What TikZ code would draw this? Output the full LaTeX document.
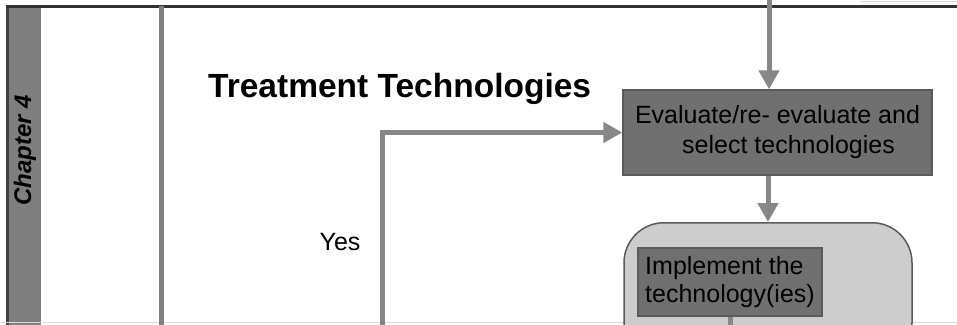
\documentclass[tikz,border=0pt]{standalone}
\usepackage{fontspec}
\setmainfont{Liberation Sans}
\usetikzlibrary{arrows.meta}
\definecolor{linegray}{HTML}{878787}
\definecolor{boxgray}{HTML}{707070}
\definecolor{boxedge}{HTML}{5A5A5A}
\definecolor{panel}{HTML}{CDCDCD}
\definecolor{band}{HTML}{7F7F7F}
\tikzset{
  flow/.style={draw=linegray, line width=5pt, -{Triangle[length=19pt,width=20pt]}},
  plain/.style={draw=linegray, line width=5pt},
  darkbox/.style={draw=boxedge, line width=1.5pt, fill=boxgray, inner sep=0pt},
  lbl/.style={font=\fontsize{25}{30}\selectfont, text=black},
}
\begin{document}
\begin{tikzpicture}[x=1pt,y=-1pt]
\useasboundingbox (0,0) rectangle (957,324);
\clip (0,0) rectangle (957,324);
\fill[white] (0,0) rectangle (957,324);
% chapter band
\fill[band] (9,6) rectangle (41,330);
\draw[draw=black!75, line width=3pt] (7.5,6) -- (7.5,330);
\draw[draw=black!80, line width=2.5pt] (6,6.5) -- (957,6.5);
\draw[draw=black!15, line width=1pt] (860,1) -- (957,1);
\draw[draw=black!15, line width=1pt] (0,322.5) -- (957,322.5);
\node[rotate=90, font=\fontsize{24}{28}\selectfont\bfseries\itshape, inner sep=0pt] (chap) at (25,150) {Chapter 4};
% lane divider
\draw[draw=black!50, line width=5pt] (161,6) -- (161,330);
% title
\node[anchor=base west, font=\fontsize{33.5}{40}\selectfont\bfseries, inner sep=0pt] (title) at (208,97) {Treatment Technologies};
% evaluate box
\node[darkbox, minimum width=309pt, minimum height=85pt, lbl, align=center] (eval) at (777.5,132.5) {Evaluate/re- evaluate and\\ \hspace{22pt}select technologies};
% container
\node[draw=boxedge, line width=1.5pt, fill=panel, rounded corners=40pt, minimum width=288pt, minimum height=140pt, anchor=north] (cont) at (768,222) {};
% implement box
\node[darkbox, minimum width=184pt, minimum height=68pt, lbl, align=left, font=\fontsize{25}{28}\selectfont] (impl) at (730,282) {Implement the\\technology(ies)};
% yes label
\node[lbl, anchor=base] (yes) at (340,250) {Yes};
% connectors
\coordinate (topin) at (769,0);
\coordinate (yesin) at (382,330);
\coordinate (implout) at (730,330);
\draw[flow] (topin) -- (topin |- eval.north);
\draw[flow] (eval.south -| cont.north) -- (cont.north);
\draw[flow] (yesin) |- (eval.west);
\draw[plain] (impl.south) -- (implout);
\end{tikzpicture}
\end{document}
